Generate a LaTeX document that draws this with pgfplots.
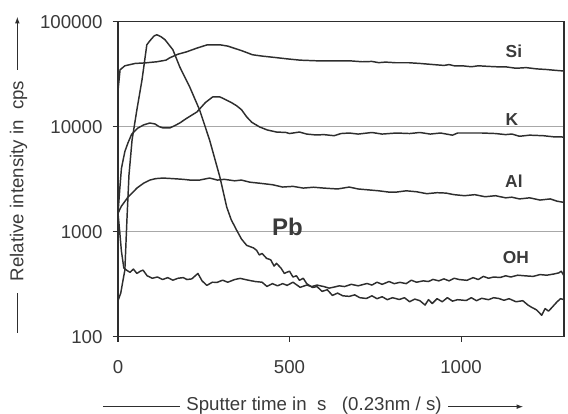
\documentclass[border=0pt]{standalone}
\usepackage{fontspec}
\setmainfont{Liberation Sans}
\usepackage{pgfplots}
\pgfplotsset{compat=1.18}
\usetikzlibrary{arrows.meta}
\definecolor{ink}{HTML}{2E2E2E}
\definecolor{txt}{HTML}{3A3A3A}
\definecolor{gridc}{HTML}{A8A8A8}
\tikzset{curve/.style={ink, line width=1.1pt, mark=none, line join=round}}
\begin{document}
\begin{tikzpicture}
\begin{axis}[
  at={(0pt,0pt)}, anchor=south west,
  scale only axis, width=334.5pt, height=236.25pt,
  xmin=0, xmax=1300, ymin=100, ymax=100000, ymode=log,
  xtick={0,500,1000}, ytick={100,1000,10000,100000},
  log ticks with fixed point,
  /pgf/number format/1000 sep={},
  /pgf/number format/assume math mode=true,
  yminorticks=false,
  tick align=outside, major tick length=4pt,
  tick pos=left,
  ymajorgrids, grid style={gridc, line width=0.6pt},
  axis line style={ink, line width=1.1pt},
  tick style={ink, line width=0.8pt},
  ticklabel style={font=\fontsize{14}{16}\selectfont, text=txt},
  yticklabel style={anchor=east, inner sep=0pt, xshift=-7.5pt},
  xticklabel style={anchor=north, inner sep=0pt, yshift=-13.5pt},
]
% Si
\addplot[curve] coordinates {(0,22000)(6,34800)(20,38000)(50,40000)(80,40500)(113,41500)(140,43000)(151,45300)(175,49000)(200,51600)(230,56000)(259,60000)(297,60200)(320,58500)(334,56500)(360,53000)(392,48400)(420,47000)(460,45500)(491,44300)(530,43000)(578,42400)(620,42400)(674,42400)(712,41500)(740,41800)(760,40700)(780,41200)(810,40600)(849,40600)(880,40000)(920,39000)(950,38300)(965,39000)(980,38000)(1003,38000)(1030,37200)(1050,38000)(1080,37500)(1110,37100)(1131,37100)(1160,36000)(1190,36500)(1220,35500)(1250,35000)(1270,34500)(1294,34000)(1300,34000)};
% K
\addplot[curve] coordinates {(0,1500)(5,2500)(10,4000)(20,5800)(29,7000)(40,8500)(58,9700)(75,10400)(93,10840)(108,10600)(120,10000)(131,9730)(151,9730)(165,10200)(180,10840)(200,12000)(230,13800)(255,17000)(276,19200)(297,19200)(315,18000)(330,17000)(346,15800)(360,14500)(375,12400)(390,11000)(413,9930)(435,9300)(462,8890)(490,8800)(500,8600)(529,8890)(550,8500)(578,8330)(600,8400)(630,8200)(650,8600)(674,8700)(700,8500)(740,8800)(770,8500)(811,8700)(850,8600)(880,8800)(910,8500)(940,8700)(975,8300)(990,8700)(1030,8700)(1061,8700)(1100,8600)(1130,8400)(1148,8510)(1170,8100)(1200,8300)(1240,8200)(1270,8000)(1294,7980)(1300,7900)};
% Al
\addplot[curve] coordinates {(0,1500)(10,1750)(29,2130)(45,2400)(55,2600)(75,2900)(93,3100)(110,3200)(131,3240)(160,3200)(190,3150)(210,3100)(238,3100)(267,3240)(290,3100)(310,3150)(340,3050)(360,3100)(384,2960)(410,2900)(430,2850)(450,2800)(480,2660)(510,2700)(540,2600)(570,2650)(600,2600)(640,2550)(674,2660)(700,2550)(730,2500)(760,2450)(790,2380)(811,2380)(840,2450)(870,2400)(900,2300)(930,2350)(956,2330)(980,2250)(1010,2200)(1040,2250)(1070,2150)(1100,2200)(1130,2100)(1148,2130)(1170,2050)(1200,2100)(1230,2000)(1260,2050)(1280,1950)(1300,1900)};
% OH
\addplot[curve] coordinates {(0,1500)(5,1000)(10,650)(17,450)(25,430)(35,410)(45,440)(55,400)(65,420)(73,430)(85,380)(100,360)(115,370)(130,350)(145,365)(160,345)(175,360)(190,365)(201,350)(215,355)(233,400)(245,340)(259,308)(275,330)(289,329)(305,345)(320,330)(340,350)(356,359)(380,345)(400,335)(420,330)(434,301)(450,320)(465,305)(480,320)(493,308)(510,330)(531,295)(550,310)(565,300)(580,310)(600,300)(615,290)(627,295)(645,305)(660,300)(680,315)(700,305)(726,321)(740,310)(755,330)(770,315)(790,335)(805,320)(822,329)(840,320)(855,345)(870,330)(890,340)(905,335)(918,351)(935,340)(950,355)(965,340)(980,360)(995,350)(1017,344)(1035,365)(1050,350)(1065,375)(1080,360)(1095,370)(1114,366)(1130,380)(1145,370)(1165,385)(1185,380)(1210,375)(1230,390)(1250,385)(1270,395)(1285,405)(1292,420)(1300,380)};
% Pb
\addplot[curve] coordinates {(0,220)(8,260)(15,350)(20,430)(26,1290)(32,3460)(41,7460)(55,14450)(70,27900)(84,60200)(93,65800)(105,73000)(113,75100)(125,72000)(137,67300)(160,54000)(180,37100)(209,23900)(238,14400)(267,7460)(297,3310)(317,1710)(330,1300)(346,1030)(360,850)(375,741)(385,720)(395,700)(404,664)(412,600)(420,620)(433,557)(445,540)(455,470)(462,499)(475,450)(485,400)(491,409)(500,420)(510,370)(520,380)(529,344)(540,360)(550,320)(567,294)(580,300)(595,270)(610,280)(625,247)(640,260)(655,245)(674,242)(690,250)(705,235)(724,231)(740,245)(755,230)(770,240)(785,225)(800,235)(820,226)(835,235)(850,215)(865,228)(880,220)(895,200)(905,225)(916,207)(930,230)(945,215)(960,235)(975,218)(990,225)(1015,221)(1030,235)(1045,220)(1060,232)(1080,225)(1095,235)(1110,231)(1125,222)(1140,230)(1160,215)(1180,220)(1195,200)(1206,190)(1220,180)(1235,160)(1245,185)(1255,175)(1265,190)(1280,215)(1290,230)(1300,225)};
\node[font=\fontsize{13}{15}\selectfont\bfseries, text=txt] at (axis cs:1154,51700) {Si};
\node[font=\fontsize{13}{15}\selectfont\bfseries, text=txt] at (axis cs:1148,11600) {K};
\node[font=\fontsize{13}{15}\selectfont\bfseries, text=txt] at (axis cs:1154,3030) {Al};
\node[font=\fontsize{13}{15}\selectfont\bfseries, text=txt] at (axis cs:1160,570) {OH};
\node[font=\fontsize{18}{20}\selectfont\bfseries, text=txt] at (axis cs:494,1100) {Pb};
\end{axis}
% x label
\node[font=\fontsize{14}{16}\selectfont, text=txt, inner sep=0pt] (xl) at (147pt,-51.5pt) {Sputter time in\ \ s\ \ \ (0.23nm / s)};
\draw[ink, line width=0.8pt] (-11.25pt,-52.5pt) -- (46.5pt,-52.5pt);
\draw[ink, line width=0.8pt, -{Latex[length=5pt,width=3.5pt]}] (247.5pt,-52.5pt) -- (304pt,-52.5pt);
% y label
\node[font=\fontsize{14}{16}\selectfont, text=txt, inner sep=0pt, rotate=90] at (-74.6pt,116.8pt) {Relative intensity in\ \ cps};
\draw[ink, line width=0.8pt] (-75.5pt,2.8pt) -- (-75.5pt,32.8pt);
\draw[ink, line width=0.8pt, -{Latex[length=5pt,width=3.5pt]}] (-75.5pt,200pt) -- (-75.5pt,240pt);
\pgfresetboundingbox
\path[use as bounding box] (-88.5pt,-58pt) rectangle (337.5pt,252.5pt);
\end{tikzpicture}
\end{document}
